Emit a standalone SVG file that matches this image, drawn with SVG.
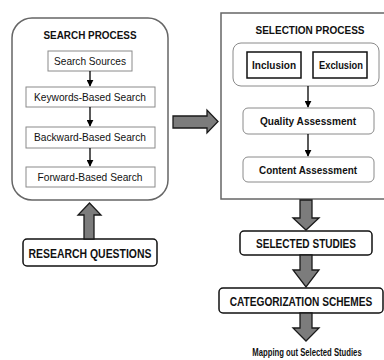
<svg xmlns="http://www.w3.org/2000/svg" width="384" height="360" viewBox="0 0 384 360">
<defs>
<marker id="ah" viewBox="0 0 10 10" refX="9" refY="5" markerWidth="7" markerHeight="7" markerUnits="userSpaceOnUse" orient="auto"><path d="M0,0 L10,5 L0,10 Z" fill="#000"/></marker>
<style>
.t{font-family:"Liberation Sans",Arial,sans-serif;fill:#111;text-anchor:middle}
.b{font-weight:bold}
.outer{fill:#fff;stroke:#666;stroke-width:1.5}
.inner{fill:#fff;stroke:#8a8a8a;stroke-width:1}
.blk{fill:#fff;stroke:#111;stroke-width:1.5}
.big{fill:#7c7c7c;stroke:#1a1a1a;stroke-width:1.3;stroke-linejoin:miter}
.con{stroke:#000;stroke-width:1.3;fill:none}
</style>
</defs>
<rect width="384" height="360" fill="#fff"/>
<g id="search-process">
<rect class="outer" x="12" y="18" width="156" height="182" rx="20"/>
<text class="t b" x="90" y="39" font-size="11" textLength="93" lengthAdjust="spacingAndGlyphs">SEARCH PROCESS</text>
</g>
<g id="search-sources"><rect class="inner" x="48" y="51" width="84" height="20"/><text class="t" x="90" y="64.5" font-size="10.5" textLength="72" lengthAdjust="spacingAndGlyphs">Search Sources</text></g>
<g id="keywords"><rect class="inner" x="26" y="87" width="129" height="20"/><text class="t" x="90" y="100.5" font-size="10.5" textLength="112" lengthAdjust="spacingAndGlyphs">Keywords-Based Search</text></g>
<g id="backward"><rect class="inner" x="26" y="127" width="129" height="21"/><text class="t" x="90" y="141" font-size="10.5" textLength="112" lengthAdjust="spacingAndGlyphs">Backward-Based Search</text></g>
<g id="forward"><rect class="inner" x="26" y="167" width="129" height="20"/><text class="t" x="90" y="181" font-size="10.5" textLength="105" lengthAdjust="spacingAndGlyphs">Forward-Based Search</text></g>
<g id="research-questions"><rect class="blk" x="23" y="239" width="134" height="27" rx="4"/><text class="t b" x="90" y="257.5" font-size="12.5" textLength="123" lengthAdjust="spacingAndGlyphs">RESEARCH QUESTIONS</text></g>
<g id="selection-process">
<rect class="outer" x="221" y="13" width="170" height="186"/>
<text class="t b" x="310" y="34" font-size="11.5" textLength="109" lengthAdjust="spacingAndGlyphs">SELECTION PROCESS</text>
</g>
<g id="criteria"><rect class="inner" x="233" y="43" width="146" height="43" rx="8"/></g>
<g id="inclusion"><rect class="blk" x="247" y="52" width="54" height="26"/><text class="t b" x="274" y="69" font-size="11" textLength="44" lengthAdjust="spacingAndGlyphs">Inclusion</text></g>
<g id="exclusion"><rect class="blk" x="313" y="52" width="54" height="26"/><text class="t b" x="341" y="69" font-size="11" textLength="44" lengthAdjust="spacingAndGlyphs">Exclusion</text></g>
<g id="quality"><rect class="inner" x="243" y="108" width="131" height="26" rx="5"/><text class="t b" x="308" y="125" font-size="11" textLength="96" lengthAdjust="spacingAndGlyphs">Quality Assessment</text></g>
<g id="content"><rect class="inner" x="243" y="157" width="131" height="25" rx="5"/><text class="t b" x="308" y="173.5" font-size="11" textLength="98" lengthAdjust="spacingAndGlyphs">Content Assessment</text></g>
<g id="selected-studies"><rect class="blk" x="240" y="231" width="132" height="24" rx="4"/><text class="t b" x="306" y="248" font-size="13" textLength="100" lengthAdjust="spacingAndGlyphs">SELECTED STUDIES</text></g>
<g id="categorization"><rect class="blk" x="219" y="288" width="164" height="25" rx="4"/><text class="t b" transform="translate(301,305.5) scale(0.78,1)" x="0" y="0" font-size="13">CATEGORIZATION  SCHEMES</text></g>
<g id="mapping"><text class="t b" transform="translate(307,356) scale(0.67,1)" x="0" y="0" font-size="11.5">Mapping out Selected Studies</text></g>
<g id="connectors">
<line class="con" x1="90" y1="71" x2="90" y2="86" marker-end="url(#ah)"/>
<line class="con" x1="90" y1="107" x2="90" y2="126" marker-end="url(#ah)"/>
<line class="con" x1="90" y1="148" x2="90" y2="166" marker-end="url(#ah)"/>
<line class="con" x1="308" y1="86" x2="308" y2="107" marker-end="url(#ah)"/>
<line class="con" x1="308" y1="134" x2="308" y2="156" marker-end="url(#ah)"/>
<path class="big" d="M84,239 L84,215 L78,215 L89.5,203 L101,215 L94,215 L94,239 Z"/>
<path class="big" d="M173,116 L207,116 L207,110 L218,121.5 L207,133 L207,128 L173,128 Z"/>
<path class="big" d="M300,200 L300,218 L293,218 L306,230 L319,218 L312,218 L312,200 Z"/>
<path class="big" d="M300,255 L300,270 L293,270 L306,287 L319,270 L312,270 L312,255 Z"/>
<path class="big" d="M300,313 L300,328 L293,328 L306,341 L319,328 L312,328 L312,313 Z"/>
</g>
</svg>
